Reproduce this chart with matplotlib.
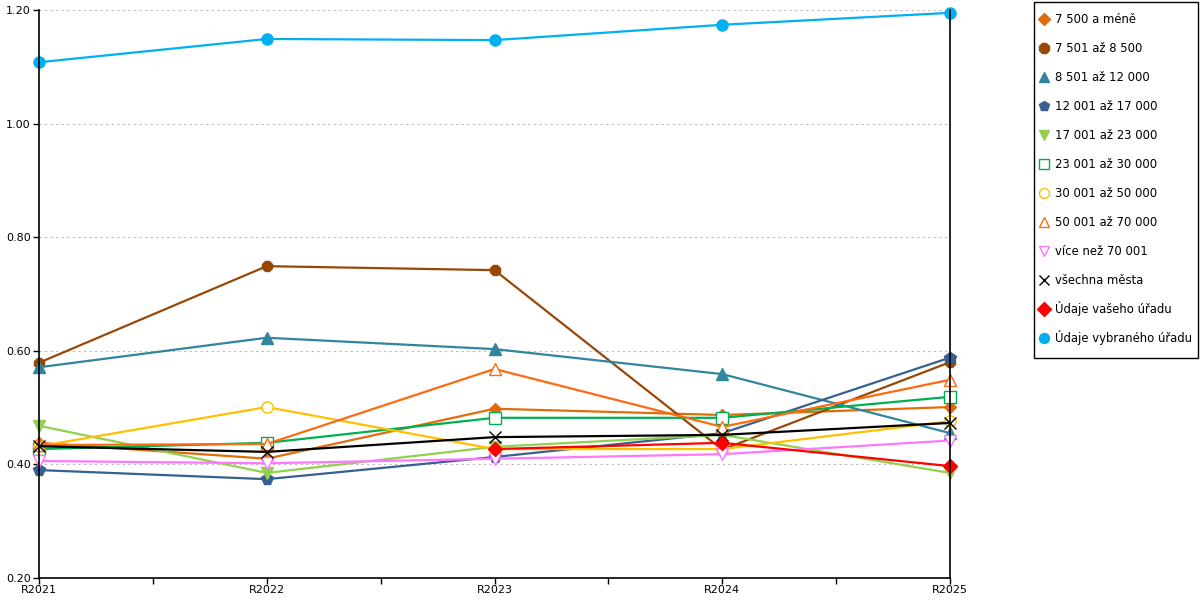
import matplotlib
matplotlib.use("Agg")
import matplotlib.pyplot as plt
from matplotlib.lines import Line2D
from matplotlib.patches import Rectangle
import numpy as np

plt.rcParams['font.family'] = ['DejaVu Sans']

years = ["R2021", "R2022", "R2023", "R2024", "R2025"]

labels = ["7 500 a méně", "7 501 až 8 500", "8 501 až 12 000", "12 001 až 17 000",
          "17 001 až 23 000", "23 001 až 30 000", "30 001 až 50 000", "50 001 až 70 000",
          "více než 70 001", "všechna města", "Údaje vašeho úřadu", "Údaje vybraného úřadu"]

s_7500 = [0.438, 0.410, 0.498, 0.487, 0.501]
s_8500 = [0.579, 0.749, 0.742, 0.426, 0.580]
s_12000 = [0.571, 0.623, 0.603, 0.559, 0.455]
s_17000 = [0.390, 0.374, 0.413, 0.455, 0.588]
s_23000 = [0.468, 0.385, 0.431, 0.452, 0.385]
s_30000 = [0.427, 0.438, 0.482, 0.482, 0.519]
s_50000 = [0.432, 0.501, 0.427, 0.427, 0.476]
s_70000 = [0.434, 0.436, 0.568, 0.466, 0.549]
s_over70 = [0.406, 0.402, 0.410, 0.418, 0.442]
s_all = [0.432, 0.422, 0.448, 0.452, 0.473]
s_yours = [np.nan, np.nan, 0.427, 0.438, 0.397]
s_selected = [1.108, 1.149, 1.147, 1.174, 1.195]

series = [s_7500, s_8500, s_12000, s_17000, s_23000, s_30000, s_50000, s_70000,
          s_over70, s_all, s_yours, s_selected]

colors = ["#e36c0a", "#974806", "#31859c", "#376092", "#92d050", "#00b050",
          "#ffc000", "#ff6a10", "#ff77ff", "#000000", "#ff0000", "#00b0f0"]
markers = ["D", "8", "^", "p", "v", "s", "o", "^", "v", "x", "D", "o"]
filled = [True, True, True, True, True, False, False, False, False, True, True, True]
msizes = [6.5, 8, 8.5, 8.5, 8.5, 8, 8, 8.5, 8.5, 8.5, 7.5, 8]

fig = plt.figure(figsize=(12, 6), dpi=100)
ax = fig.add_axes([39/1200, 22/600, (950-39)/1200, (578-10)/600])

x = np.arange(len(years))
for s, lab, c, m, f, ms in zip(series, labels, colors, markers, filled, msizes):
    ax.plot(x, s, color=c, lw=1.6, marker=m, markersize=ms,
            markerfacecolor=(c if f else "white") if m != "x" else c,
            markeredgecolor=c, markeredgewidth=1.0, clip_on=False, label=lab)

ax.set_xlim(0, 4)
ax.set_ylim(0.2, 1.2)
ax.set_yticks(np.arange(0.2, 1.21, 0.2))
ax.set_yticklabels([f"{v:.2f}" for v in np.arange(0.2, 1.21, 0.2)], fontsize=8)
ax.set_xticks(x)
ax.set_xticklabels(years, fontsize=8)
ax.set_xticks(np.arange(0.5, 4, 1), minor=True)
ax.tick_params(axis='x', which='both', length=4, width=1, direction='out', pad=1)
ax.tick_params(axis='y', length=4, width=1, pad=2)
ax.grid(axis='y', color='#bbbbbb', linestyle=(0, (2, 3)), linewidth=0.8)
ax.set_axisbelow(True)
ax.spines['top'].set_visible(False)
for sp in ['left', 'right', 'bottom']:
    ax.spines[sp].set_color('black')
    ax.spines[sp].set_linewidth(1.2)

# legend, laid out by hand in figure pixels
W, H = 1200, 600
fig.patches.append(Rectangle((1034/W, 1 - 358/H), (1198-1034)/W, (358-2)/H,
                             transform=fig.transFigure, fill=False,
                             edgecolor='black', linewidth=1.0))
for i, (lab, c, m, f, ms) in enumerate(zip(labels, colors, markers, filled, msizes)):
    yc = 19 + i * 29
    fig.add_artist(Line2D([1044/W], [1 - yc/H], transform=fig.transFigure,
                          linestyle='none', marker=m, markersize=ms * 0.9,
                          markerfacecolor=(c if f else "white") if m != "x" else c,
                          markeredgecolor=c, markeredgewidth=1.0))
    fig.text(1055/W, 1 - (yc + 4)/H, lab, fontsize=8.4, va='baseline', ha='left')

fig.savefig("out.png", dpi=100)
